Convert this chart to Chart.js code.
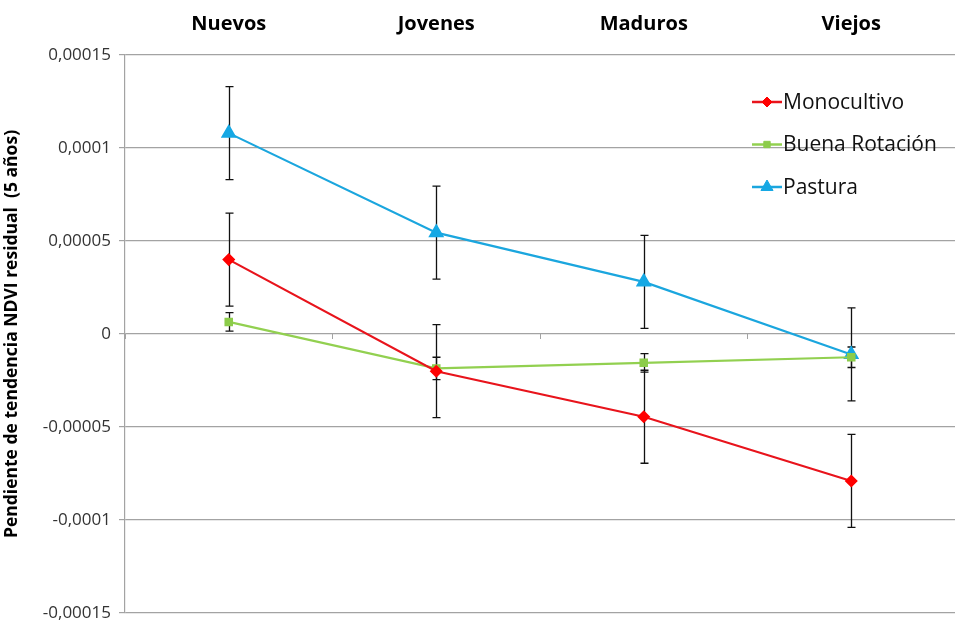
<!DOCTYPE html>
<html>
<head>
<meta charset="utf-8">
<script src="https://cdn.jsdelivr.net/npm/chart.js@4/dist/chart.umd.min.js"></script>
<style>
  html, body { margin: 0; padding: 0; background: #ffffff; }
  #wrap { width: 955px; height: 621px; position: relative; overflow: hidden; }
</style>
</head>
<body>
<div id="wrap"><canvas id="chart" width="955" height="621"></canvas></div>
<script>
// Age classes of the plots
const categories = ['Nuevos', 'Jovenes', 'Maduros', 'Viejos'];

// Mean residual NDVI trend slope (5 years) and error half-widths
const monocultivo = [0.00004, -0.00002, -0.0000445, -0.000079];
const monocultivoErr = [0.000025, 0.000025, 0.000025, 0.000025];

const buenaRotacion = [0.0000065, -0.0000185, -0.0000155, -0.0000125];
const buenaRotacionErr = [0.000005, 0.000006, 0.000005, 0.0000055];

const pastura = [0.000108, 0.0000545, 0.000028, -0.000011];
const pasturaErr = [0.000025, 0.000025, 0.000025, 0.000025];

// Y-axis tick labels (decimal comma), bottom to top
const yTickLabels = ['-0,00015', '-0,0001', '-0,00005', '0', '0,00005', '0,0001', '0,00015'];

const FONT = '"Open Sans", Lato, sans-serif';
const GRID = '#a3a3a3';

// Keep the plot area flush with the canvas edges
function noEdgePadding(scale) {
  scale.paddingLeft = 0;
  scale.paddingRight = 0;
  scale.paddingTop = 0;
  scale.paddingBottom = 0;
}

// Vertical error bars with caps, drawn under the series
const errorBarPlugin = {
  id: 'errorBars',
  beforeDatasetsDraw(chart) {
    const ctx = chart.ctx;
    const yScale = chart.scales.y;
    ctx.save();
    ctx.strokeStyle = '#111111';
    ctx.lineWidth = 1.3;
    chart.data.datasets.forEach((ds, i) => {
      const meta = chart.getDatasetMeta(i);
      meta.data.forEach((pt, j) => {
        const v = ds.data[j];
        const e = ds.errorBars[j];
        const top = yScale.getPixelForValue(v + e);
        const bot = yScale.getPixelForValue(v - e);
        const x = Math.round(pt.x) + 0.5;
        ctx.beginPath();
        ctx.moveTo(x, top);
        ctx.lineTo(x, bot);
        ctx.moveTo(x - 4, top);
        ctx.lineTo(x + 4, top);
        ctx.moveTo(x - 4, bot);
        ctx.lineTo(x + 4, bot);
        ctx.stroke();
      });
    });
    ctx.restore();
  }
};

// Legend placed inside the plot, upper right
const insideLegendPlugin = {
  id: 'insideLegend',
  afterDraw(chart) {
    const ctx = chart.ctx;
    ctx.save();
    chart.data.datasets.forEach((ds, i) => {
      const y = 102 + i * 42.5;
      ctx.strokeStyle = ds.borderColor;
      ctx.lineWidth = 2.5;
      ctx.beginPath();
      ctx.moveTo(752, y);
      ctx.lineTo(782, y);
      ctx.stroke();
      ctx.fillStyle = ds.pointBackgroundColor;
      ctx.strokeStyle = ds.pointBorderColor;
      ctx.lineWidth = 1;
      Chart.helpers.drawPoint(ctx, {
        pointStyle: ds.pointStyle,
        radius: ds.pointRadius,
        rotation: 0,
        borderWidth: 1
      }, 767, y);
      ctx.fillStyle = '#111111';
      ctx.font = '21px ' + FONT;
      ctx.textAlign = 'left';
      ctx.textBaseline = 'middle';
      ctx.fillText(ds.label, 783, y + 1);
    });
    ctx.restore();
  }
};

new Chart(document.getElementById('chart'), {
  type: 'line',
  data: {
    labels: categories,
    datasets: [
      {
        label: 'Monocultivo',
        data: monocultivo,
        errorBars: monocultivoErr,
        borderColor: '#e8141c',
        backgroundColor: '#ff0000',
        pointBackgroundColor: '#ff0000',
        pointBorderColor: '#ff0000',
        pointStyle: 'rectRot',
        pointRadius: 5,
        borderWidth: 2.2
      },
      {
        label: 'Buena Rotación',
        data: buenaRotacion,
        errorBars: buenaRotacionErr,
        borderColor: '#92d050',
        backgroundColor: '#8ccc4a',
        pointBackgroundColor: '#8ccc4a',
        pointBorderColor: '#8ccc4a',
        pointStyle: 'rect',
        pointRadius: 4.5,
        borderWidth: 2.2
      },
      {
        label: 'Pastura',
        data: pastura,
        errorBars: pasturaErr,
        borderColor: '#1ba6de',
        backgroundColor: '#16a8e4',
        pointBackgroundColor: '#16a8e4',
        pointBorderColor: '#16a8e4',
        pointStyle: 'triangle',
        pointRadius: 7,
        borderWidth: 2.2
      }
    ]
  },
  options: {
    responsive: false,
    animation: false,
    layout: { autoPadding: false, padding: { left: 0, top: 0, right: -3, bottom: 8 } },
    plugins: {
      legend: { display: false },
      tooltip: { enabled: false }
    },
    scales: {
      x: {
        type: 'category',
        position: 'top',
        offset: true,
        grid: { display: false },
        border: { display: false },
        ticks: {
          color: '#000000',
          font: { family: FONT, size: 20, weight: 'bold' },
          padding: 11
        },
        afterFit(scale) { scale.height = 55; noEdgePadding(scale); }
      },
      xZero: {
        type: 'category',
        labels: categories,
        position: { y: 0 },
        offset: true,
        grid: {
          offset: true,
          drawOnChartArea: false,
          drawTicks: true,
          tickLength: 5,
          color: GRID
        },
        border: { display: false },
        ticks: { display: false },
        afterFit: noEdgePadding
      },
      y: {
        min: -0.00015,
        max: 0.00015,
        ticks: {
          stepSize: 0.00005,
          color: '#333333',
          font: { family: FONT, size: 17 },
          padding: 8,
          callback: (value, index) => yTickLabels[index]
        },
        grid: { color: GRID, lineWidth: 1.2, tickLength: 6 },
        border: { color: GRID, width: 1.2 },
        title: {
          display: true,
          text: 'Pendiente de tendencia NDVI residual  (5 años)',
          color: '#000000',
          font: { family: FONT, size: 17.5, weight: 'bold' },
          padding: { top: 2, bottom: 0 }
        },
        afterFit(scale) { scale.width = 125; noEdgePadding(scale); }
      }
    }
  },
  plugins: [errorBarPlugin, insideLegendPlugin]
});
</script>
</body>
</html>
